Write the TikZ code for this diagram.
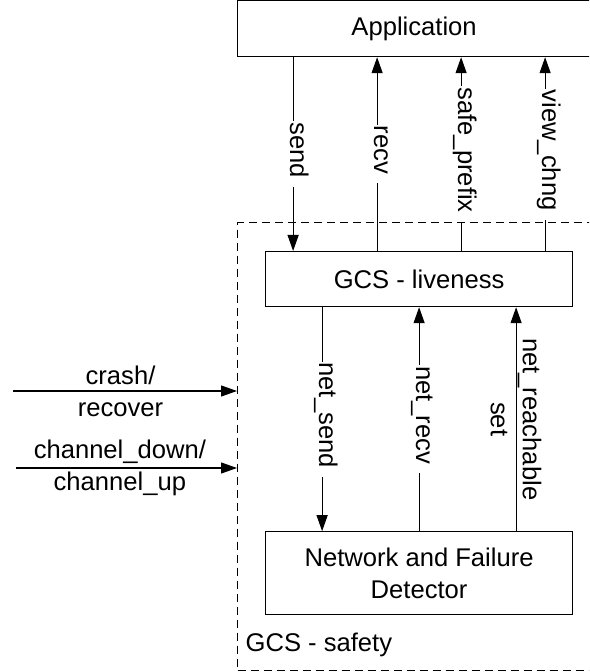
\documentclass[tikz,border=0pt]{standalone}
\usepackage{fontspec}
\setmainfont{Liberation Sans}
\usetikzlibrary{positioning}
\usetikzlibrary{arrows.meta}

\begin{document}
\begin{tikzpicture}[
    x=0.5pt, y=-0.5pt,
    line width=0.6pt,
    node distance=112pt,
    every node/.style={font=\fontsize{12.8}{16}\selectfont},
    block/.style={draw, minimum width=153.5pt, minimum height=27.5pt,
                  align=center},
    sig/.style={rotate=-90, fill=white, text height=3pt, text depth=0pt,
                inner xsep=0.5pt, inner ysep=0.7pt,
                execute at end node={\hspace{4pt}}},
    pair/.style={align=center, inner sep=0pt},
    >={Triangle[length=8pt, width=5.5pt]}]
    \useasboundingbox (0,0) rectangle (589,672);
    \clip (0,0) rectangle (589,672);
    \node[block, minimum width=176.5pt, minimum height=28pt, anchor=north west]
      (app) at (237,0) {Application};
    \node[block, anchor=north west] (live) at (265,251) {GCS - liveness};
    \node[block, minimum height=41.5pt, below=of live] (net)
      {Network and Failure\\Detector};
    % application <-> liveness
    \draw[->] ([xshift=-63pt]live.north |- app.south) -- node[sig] {send}
      ([xshift=-63pt]live.north);
    \draw[->] ([xshift=-21pt]live.north) -- node[sig] {recv}
      ([xshift=-21pt]live.north |- app.south);
    \draw[->] ([xshift=21pt]live.north) -- node[sig] {safe\_prefix}
      ([xshift=21pt]live.north |- app.south);
    \draw[->] ([xshift=63pt]live.north) -- node[sig] {view\_chng}
      ([xshift=63pt]live.north |- app.south);
    % liveness <-> network
    \draw[->] ([xshift=-48.5pt]live.south) -- node[sig] {net\_send}
      ([xshift=-48.5pt]net.north);
    \draw[->] (net.north) -- node[sig] {net\_recv} (live.south);
    \draw[->] ([xshift=48.5pt]net.north) --
      node[pair, rotate=-90] {net\_reachable\\set} ([xshift=48.5pt]live.south);
    % safety part
    \node[draw, dash pattern=on 4pt off 2.5pt, minimum width=182pt,
          minimum height=224pt, anchor=north west] (safety) at (237,222) {};
    \node[anchor=base west, inner sep=0pt] (safetylbl)
      at ([xshift=4pt, yshift=10pt]safety.south west) {GCS - safety};
    \coordinate (crash) at (13,391);
    \coordinate (chan) at (16,468);
    \draw[->] (crash) -- node[pair, pos=0.48] {crash/\\recover}
      (crash -| safety.west);
    \draw[->] (chan) -- node[pair, pos=0.47] {channel\_down/\\channel\_up}
      (chan -| safety.west);
  \end{tikzpicture}
\end{document}
